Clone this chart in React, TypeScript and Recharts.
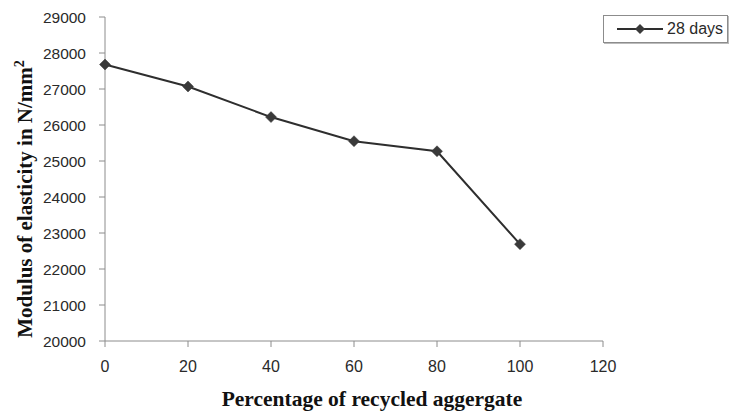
import { Legend, Line, LineChart, XAxis, YAxis } from "recharts";

const percentages = [0, 20, 40, 60, 80, 100];
const modulus28 = [27680, 27070, 26220, 25550, 25270, 22690];
const xTicks = [0, 20, 40, 60, 80, 100, 120];
const yTicks = [20000, 21000, 22000, 23000, 24000, 25000, 26000, 27000, 28000, 29000];

const data = percentages.map((p, i) => ({ pct: p, days28: modulus28[i] }));

const AXIS = "#8c8c8c";
const INK = "#2e2e2e";
const sans = "'Liberation Sans', Arial, sans-serif";
const titleFont = "'Liberation Serif', 'Times New Roman', serif";

const Diamond = (props: any) => {
  const { cx, cy } = props;
  if (cx == null || cy == null) return null;
  const r = 5.5;
  return (
    <path
      key={`d-${cx}-${cy}`}
      d={`M${cx},${cy - r}L${cx + r},${cy}L${cx},${cy + r}L${cx - r},${cy}Z`}
      fill="#3a3a3a"
      stroke="#3a3a3a"
      strokeWidth={0.5}
    />
  );
};

const YTitle = ({ viewBox }: any) => {
  const x = 32;
  const y = viewBox.y + viewBox.height / 2 + 20;
  return (
    <text
      x={x}
      y={y}
      transform={`rotate(-90, ${x}, ${y})`}
      textAnchor="middle"
      fontFamily={titleFont}
      fontWeight="bold"
      fontSize={21}
      fill="#111"
    >
      Modulus of elasticity in N/mm
      <tspan fontSize={14} dy={-8}>2</tspan>
    </text>
  );
};

const XTitle = ({ viewBox }: any) => {
  const x = viewBox.x + viewBox.width / 2 + 18;
  return (
    <text x={x} y={406} textAnchor="middle" fontFamily={titleFont} fontWeight="bold" fontSize={21.5} fill="#111">
      Percentage of recycled aggergate
    </text>
  );
};

const LegendBox = () => (
  <div
    style={{
      position: "absolute",
      left: 603,
      top: 15,
      width: 123,
      height: 26,
      border: `1px solid ${AXIS}`,
      boxShadow: "1px 1px 0 #bbb",
      background: "#fff",
      display: "flex",
      alignItems: "center",
      fontFamily: sans,
      fontSize: 16,
      color: "#2a2a2a",
    }}
  >
    <svg width={50} height={14} style={{ marginLeft: 12 }}>
      <line x1={1} y1={7} x2={47} y2={7} stroke={INK} strokeWidth={2} />
      <path d="M24,2L29,7L24,12L19,7Z" fill="#3a3a3a" />
    </svg>
    <span style={{ marginLeft: 1 }}>28 days</span>
  </div>
);

export default function App() {
  return (
    <div style={{ position: "absolute", left: 0, top: 0, width: 732, height: 413, background: "#fff" }}>
      <LineChart width={732} height={413} data={data} margin={{ top: 17, right: 129, bottom: 0, left: 0 }}>
        <XAxis
          dataKey="pct"
          type="number"
          domain={[0, 120]}
          ticks={xTicks}
          interval={0}
          height={72}
          stroke={AXIS}
          tickSize={6}
          tickMargin={14}
          tick={{ fontSize: 16, fill: "#2a2a2a", fontFamily: sans }}
          label={<XTitle />}
        />
        <YAxis
          type="number"
          domain={[20000, 29000]}
          ticks={yTicks}
          interval={0}
          width={105}
          stroke={AXIS}
          tickSize={6}
          tickMargin={13}
          tick={{ fontSize: 15.5, fill: "#2a2a2a", fontFamily: sans }}
          label={<YTitle />}
        />
        <Legend content={<LegendBox />} wrapperStyle={{ position: "absolute", left: 0, top: 0, width: 0, height: 0 }} />
        <Line
          dataKey="days28"
          name="28 days"
          stroke={INK}
          strokeWidth={2}
          dot={<Diamond />}
          activeDot={false}
          isAnimationActive={false}
        />
      </LineChart>
    </div>
  );
}
